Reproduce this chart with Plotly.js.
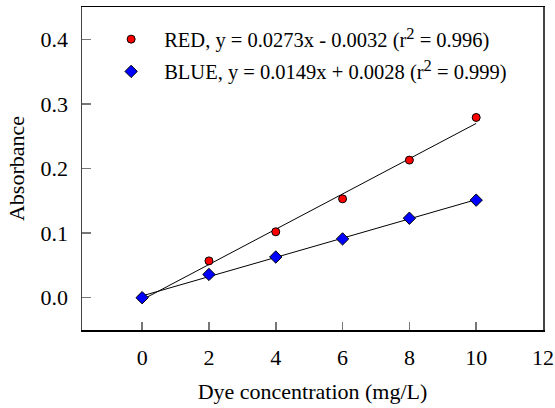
<!DOCTYPE html>
<html>
<head>
<meta charset="utf-8">
<script src="https://cdn.plot.ly/plotly-3.0.1.min.js"></script>
<style>html,body{margin:0;padding:0;background:#fff;}#chart{width:555px;height:408px;}</style>
</head>
<body>
<div id="chart"></div>
<script>
// Data
const conc = [0, 2, 4, 6, 8, 10];
const redAbs = [0.0, 0.057, 0.102, 0.153, 0.213, 0.279];
const blueAbs = [0.0, 0.036, 0.063, 0.091, 0.123, 0.151];
const redFit = {slope: 0.0273, intercept: -0.0032};
const blueFit = {slope: 0.0149, intercept: 0.0028};
const fitX = [0, 10];
const xTicks = [0, 2, 4, 6, 8, 10, 12];
const yTicks = [0.0, 0.1, 0.2, 0.3, 0.4];
const SUP2 = '<sup><span style="font-size:16.5px">2</span></sup>';
const redLabel = 'RED, y = 0.0273x - 0.0032 (r' + SUP2 + ' = 0.996)';
const blueLabel = 'BLUE, y = 0.0149x + 0.0028 (r' + SUP2 + ' = 0.999)';

const FONT = '"Liberation Serif", "Times New Roman", Times, serif';

const lineOf = (fit) => fitX.map(x => fit.slope * x + fit.intercept);

const traces = [
  {x: fitX, y: lineOf(redFit), mode: 'lines', line: {color: '#000', width: 1}, showlegend: false, hoverinfo: 'skip'},
  {x: fitX, y: lineOf(blueFit), mode: 'lines', line: {color: '#000', width: 1}, showlegend: false, hoverinfo: 'skip'},
  {x: conc, y: redAbs, mode: 'markers', name: redLabel, legend: 'legend',
   marker: {symbol: 'circle', size: 8, color: '#ff0000', line: {color: '#000', width: 1}}},
  {x: conc, y: blueAbs, mode: 'markers', name: blueLabel, legend: 'legend2',
   marker: {symbol: 'diamond', size: 9.5, color: '#0000ff', line: {color: '#000', width: 1}}}
];

const legendBase = {
  font: {family: FONT, size: 20.5, color: '#000'},
  bgcolor: 'rgba(0,0,0,0)', borderwidth: 0,
  xanchor: 'left', yanchor: 'middle', itemwidth: 56
};

const layout = {
  width: 555, height: 408,
  margin: {l: 82, r: 12, t: 7, b: 78},
  paper_bgcolor: '#fff', plot_bgcolor: '#fff',
  font: {family: FONT, color: '#000'},
  showlegend: true,
  legend: Object.assign({}, legendBase, {x: 0.035, y: 0.9}),
  legend2: Object.assign({}, legendBase, {x: 0.035, y: 0.8}),
  xaxis: {
    range: [-1.8, 12], tickvals: xTicks, ticktext: xTicks.map(String),
    ticks: 'inside', ticklen: 8, tickwidth: 1.5, tickcolor: '#777',
    showgrid: false, zeroline: false,
    showline: true, linecolor: '#000', linewidth: 1.5, mirror: true,
    tickfont: {family: FONT, size: 22, color: '#000'},
    ticklabelstandoff: 7,
    title: {text: 'Dye concentration (mg/L)', font: {family: FONT, size: 22, color: '#000'}, standoff: 14}
  },
  yaxis: {
    range: [-0.05, 0.45], tickvals: yTicks, ticktext: yTicks.map(v => v.toFixed(1)),
    ticks: 'inside', ticklen: 9, tickwidth: 1.5, tickcolor: '#777',
    showgrid: false, zeroline: false,
    showline: true, linecolor: '#444', linewidth: 1.5, mirror: true,
    tickfont: {family: FONT, size: 22, color: '#000'},
    ticklabelstandoff: 8,
    title: {text: 'Absorbance', font: {family: FONT, size: 22, color: '#000'}, standoff: 10}
  }
};

Plotly.newPlot('chart', traces, layout, {displayModeBar: false, staticPlot: true});
</script>
</body>
</html>
